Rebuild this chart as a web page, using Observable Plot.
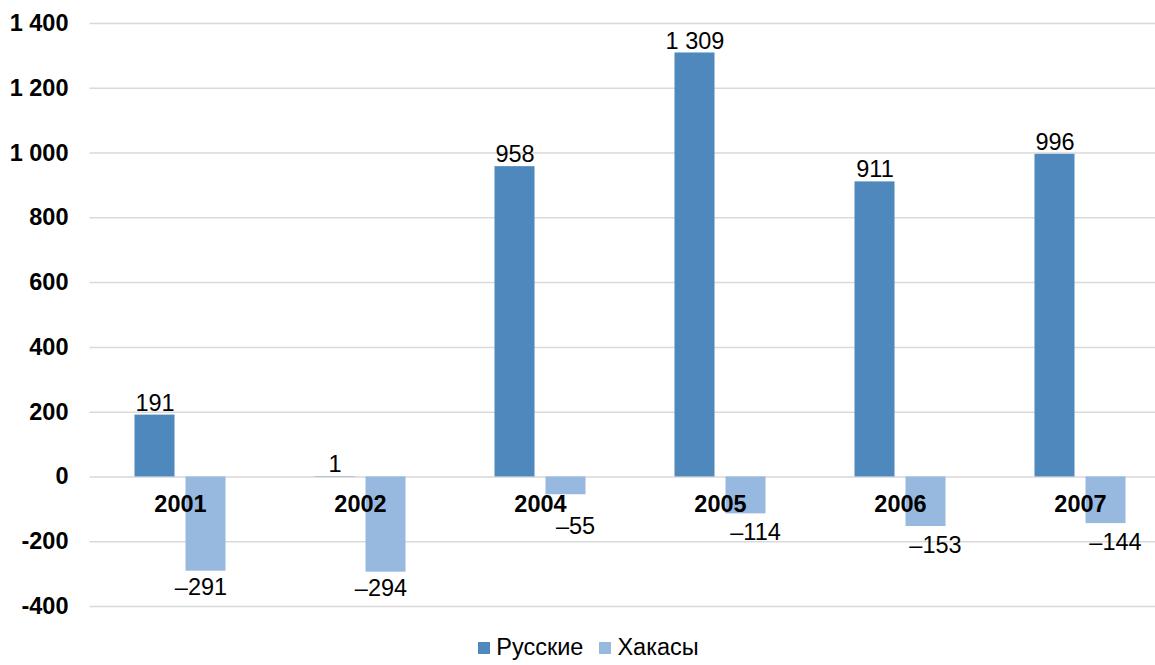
<!DOCTYPE html>
<html>
<head>
<meta charset="utf-8">
<script src="https://cdn.jsdelivr.net/npm/d3@7"></script>
<script src="https://cdn.jsdelivr.net/npm/@observablehq/plot@0.6"></script>
<style>
  html, body { margin: 0; padding: 0; background: #fff; }
  body { width: 1155px; height: 665px; overflow: hidden; font-family: "Liberation Sans", Arial, sans-serif; }
  #chart svg { display: block; font-family: "Liberation Sans", Arial, sans-serif; }
  .legend { display: flex; justify-content: center; align-items: center; height: 35px; font-size: 23.5px; color: #000; padding-left: 22px; }
  .legend .item { display: flex; align-items: center; margin: 0 8px; }
  .legend .sw { width: 12px; height: 12px; margin-right: 6px; }
</style>
</head>
<body>
<div id="chart"></div>
<div class="legend" id="legend"></div>
<script>
const years = ["2001", "2002", "2004", "2005", "2006", "2007"];
const seriesNames = ["Русские", "Хакасы"];
const russians = [191, 1, 958, 1309, 911, 996];
const khakas = [-291, -294, -55, -114, -153, -144];
const yTicks = [-400, -200, 0, 200, 400, 600, 800, 1000, 1200, 1400];
const colors = ["#4F88BD", "#97B9E0"];

const ruRows = years.map((y, i) => ({year: y, series: seriesNames[0], value: russians[i]}));
const khRows = years.map((y, i) => ({year: y, series: seriesNames[1], value: khakas[i]}));

const thousands = v => d3.format(",")(Math.abs(v)).replace(/,/g, " ");
const fmtAxis = v => (v < 0 ? "-" : "") + thousands(v);
const fmtLabel = v => (v < 0 ? "–" : "") + thousands(v);

const fs = 23.5;

// labels of short negative bars are pushed clear of the year label
const khLong = khRows.filter(d => d.value <= -200);
const khShort = khRows.filter(d => d.value > -200);

const chart = Plot.plot({
  width: 1155,
  height: 630,
  marginLeft: 89.5,
  marginRight: 0,
  marginTop: 23,
  marginBottom: 24,
  style: {fontFamily: "Liberation Sans, Arial, sans-serif", fontSize: fs + "px", color: "#000", background: "#fff"},
  x: {type: "band", domain: years, range: [89.5, 1169.5], padding: 0, axis: null},
  y: {domain: [-400, 1400], axis: null},
  marks: [
    Plot.ruleY(yTicks, {stroke: "#d9d9d9", strokeWidth: 1.5}),
    Plot.axisY(yTicks, {tickSize: 0, tickPadding: 21.5, tickFormat: fmtAxis, fontWeight: "bold", fontSize: fs, fill: "#000", label: null}),
    Plot.barY(ruRows, {x: "year", y: "value", fill: colors[0], insetLeft: 44.5, insetRight: 95.5}),
    Plot.barY(khRows, {x: "year", y: "value", fill: colors[1], insetLeft: 95.5, insetRight: 44.5}),
    Plot.text(ruRows, {x: "year", y: "value", text: d => fmtLabel(d.value), dx: -25.5, dy: -12, lineAnchor: "middle", fill: "#000", fontSize: fs}),
    Plot.text(khLong, {x: "year", y: "value", text: d => fmtLabel(d.value), dx: 20.5, dy: 16, lineAnchor: "middle", fill: "#000", fontSize: fs}),
    Plot.text(khShort, {x: "year", y: d => Math.min(d.value, -95), text: d => fmtLabel(d.value), dx: 35, dy: 19, lineAnchor: "middle", fill: "#000", fontSize: fs}),
    Plot.text(years, {x: d => d, y: () => 0, text: d => d, dy: 28, lineAnchor: "middle", fontWeight: "bold", fill: "#000", fontSize: fs})
  ]
});
document.getElementById("chart").appendChild(chart);

const legend = document.getElementById("legend");
seriesNames.forEach((name, i) => {
  const item = document.createElement("div");
  item.className = "item";
  const sw = document.createElement("span");
  sw.className = "sw";
  sw.style.background = colors[i];
  const t = document.createElement("span");
  t.textContent = name;
  item.appendChild(sw);
  item.appendChild(t);
  legend.appendChild(item);
});
</script>
</body>
</html>
